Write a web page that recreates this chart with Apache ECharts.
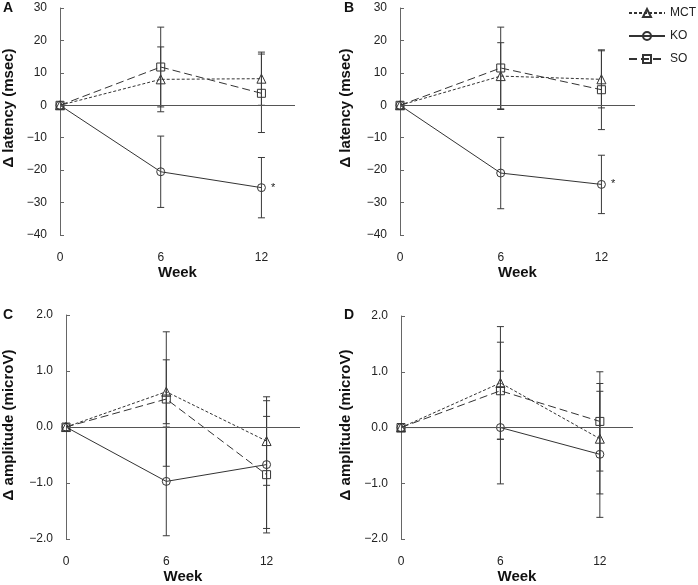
<!DOCTYPE html>
<html><head><meta charset="utf-8">
<script src="https://cdn.jsdelivr.net/npm/echarts@6/dist/echarts.min.js"></script>
<style>html,body{margin:0;padding:0;background:#fff}#c{width:698px;height:585px}</style>
</head><body><div id="c"></div>
<script>
// ---- data ----
const weeks = [0, 6, 12];
const weekTicks = [0, 6, 12];
const groupNames = ['MCT', 'KO', 'SO'];
const panelLetters = ['A', 'B', 'C', 'D'];
const latencyTitle = 'Δ latency (msec)';
const amplitudeTitle = 'Δ amplitude (microV)';
const latencyTicks = [-40, -30, -20, -10, 0, 10, 20, 30];
const amplitudeTicks = [-2.0, -1.0, 0.0, 1.0, 2.0];

// Panel A: latency
const aMCT = [0, 8.0, 8.2];
const aMCTerr = [0, 10.0, 8.2];
const aKO = [0, -20.5, -25.4];
const aKOerr = [0, 11.0, 9.3];
const aSO = [0, 11.8, 3.7];
const aSOerr = [0, 12.3, 12.1];
const aKOmark = ['', '', '*'];
// Panel B: latency
const bMCT = [0, 9.0, 8.0];
const bMCTerr = [0, 10.3, 8.8];
const bKO = [0, -20.9, -24.4];
const bKOerr = [0, 11.0, 9.0];
const bSO = [0, 11.5, 4.8];
const bSOerr = [0, 12.6, 12.3];
const bKOmark = ['', '', '*'];
// Panel C: amplitude
const cMCT = [0, 0.63, -0.25];
const cMCTerr = [0, 0.57, 0.79];
const cKO = [0, -0.97, -0.67];
const cKOerr = [0, 0.97, 1.14];
const cSO = [0, 0.50, -0.85];
const cSOerr = [0, 1.20, 1.04];
const cKOmark = ['', '', ''];
// Panel D: amplitude
const dMCT = [0, 0.80, -0.20];
const dMCTerr = [0, 1.01, 0.99];
const dKO = [0, 0.0, -0.48];
const dKOerr = [0, 1.01, 1.13];
const dSO = [0, 0.66, 0.11];
const dSOerr = [0, 0.87, 0.89];
const dKOmark = ['', '', ''];

// ---- layout / style ----
const FONT = '"Liberation Sans", Arial, Helvetica, sans-serif';
const panels = [
  {vals: [aMCT, aKO, aSO], errs: [aMCTerr, aKOerr, aSOerr], marks: aKOmark, ticks: latencyTicks, title: latencyTitle,
   grid: {left: 60, top: 8, width: 235, height: 227}, letterPos: [8, 8], titlePos: [9, 108], fmt: v => String(v)},
  {vals: [bMCT, bKO, bSO], errs: [bMCTerr, bKOerr, bSOerr], marks: bKOmark, ticks: latencyTicks, title: latencyTitle,
   grid: {left: 400, top: 8, width: 235, height: 227}, letterPos: [349, 8], titlePos: [346, 108], fmt: v => String(v)},
  {vals: [cMCT, cKO, cSO], errs: [cMCTerr, cKOerr, cSOerr], marks: cKOmark, ticks: amplitudeTicks, title: amplitudeTitle,
   grid: {left: 66, top: 315, width: 234, height: 229}, letterPos: [8, 315], titlePos: [9, 425], fmt: v => v.toFixed(1)},
  {vals: [dMCT, dKO, dSO], errs: [dMCTerr, dKOerr, dSOerr], marks: dKOmark, ticks: amplitudeTicks, title: amplitudeTitle,
   grid: {left: 401, top: 316, width: 232, height: 229}, letterPos: [349, 315], titlePos: [346, 425], fmt: v => v.toFixed(1)}
];
const styles = [
  {symbol: 'triangle', dash: [3, 2]},
  {symbol: 'circle', dash: 'solid'},
  {symbol: 'rect', dash: [8, 4]}
];
const INK = '#333';

function renderErr(params, api) {
  const x = api.value(0), lo = api.value(1), hi = api.value(2);
  if (lo === hi) return null;
  const p1 = api.coord([x, hi]), p2 = api.coord([x, lo]);
  const w = 3.5, st = {stroke: '#3a3a3a', lineWidth: 1};
  return {type: 'group', children: [
    {type: 'line', shape: {x1: p1[0], y1: p1[1], x2: p2[0], y2: p2[1]}, style: st},
    {type: 'line', shape: {x1: p1[0] - w, y1: p1[1], x2: p1[0] + w, y2: p1[1]}, style: st},
    {type: 'line', shape: {x1: p2[0] - w, y1: p2[1], x2: p2[0] + w, y2: p2[1]}, style: st}
  ]};
}

const grids = [], xAxes = [], yAxes = [], series = [], graphics = [];
panels.forEach((p, i) => {
  grids.push(p.grid);
  xAxes.push({
    type: 'value', gridIndex: i, min: 0, max: 14,
    axisLine: {show: false}, axisTick: {show: false}, splitLine: {show: false},
    axisLabel: {customValues: weekTicks, margin: 17, color: '#222', fontSize: 12, fontFamily: FONT},
    name: 'Week', nameLocation: 'middle', nameGap: 28,
    nameTextStyle: {fontWeight: 'bold', fontSize: 15, color: '#111', fontFamily: FONT}
  });
  const tk = p.ticks;
  yAxes.push({
    type: 'value', gridIndex: i, min: tk[0], max: tk[tk.length - 1], interval: tk[1] - tk[0],
    axisLine: {show: true, lineStyle: {color: '#666', width: 1}},
    axisTick: {show: true, inside: true, length: 4, lineStyle: {color: '#666'}},
    splitLine: {show: false},
    axisLabel: {margin: 13, color: '#222', fontSize: 12, fontFamily: FONT,
      formatter: v => p.fmt(v).replace('-', '\u2212')}
  });
  groupNames.forEach((name, g) => {
    const vals = p.vals[g];
    const data = weeks.map((w, k) => {
      const item = {value: [w, vals[k]]};
      if (g === 1 && p.marks[k]) {
        item.label = {show: true, formatter: p.marks[k], position: 'right', distance: 5,
          fontSize: 11, color: '#222', fontFamily: FONT};
      }
      return item;
    });
    const s = {
      type: 'line', name: name, xAxisIndex: i, yAxisIndex: i, data: data,
      symbol: styles[g].symbol, symbolSize: g === 0 ? 9 : 8, showSymbol: true,
      lineStyle: {color: INK, width: 1, type: styles[g].dash},
      itemStyle: {color: 'rgba(255,255,255,0)', borderColor: INK, borderWidth: 1},
      emphasis: {disabled: true}, animation: false, z: 3
    };
    if (g === 1) {
      s.markLine = {silent: true, symbol: 'none', label: {show: false},
        lineStyle: {color: '#555', width: 1, type: 'solid'}, data: [{yAxis: 0}], animation: false};
    }
    series.push(s);
    series.push({
      type: 'custom', name: name + ' error', xAxisIndex: i, yAxisIndex: i,
      renderItem: renderErr, encode: {x: 0, y: [1, 2]},
      data: weeks.map((w, k) => [w, vals[k] - p.errs[g][k], vals[k] + p.errs[g][k]]),
      animation: false, silent: true, z: 4
    });
  });
  graphics.push({type: 'text', left: p.letterPos[0] - 5, top: p.letterPos[1] - 7,
    style: {text: panelLetters[i], font: 'bold 14px ' + FONT, fill: '#111'}});
  graphics.push({type: 'text', x: p.titlePos[0], y: p.titlePos[1], rotation: Math.PI / 2,
    style: {text: p.title, font: 'bold 15px ' + FONT, fill: '#111', align: 'center', verticalAlign: 'middle'}});
});

const chart = echarts.init(document.getElementById('c'), null, {renderer: 'canvas'});
chart.setOption({
  backgroundColor: '#fff',
  animation: false,
  grid: grids, xAxis: xAxes, yAxis: yAxes, series: series, graphic: graphics,
  legend: {
    data: groupNames, orient: 'vertical', left: 623, top: 2,
    itemWidth: 36, itemHeight: 10, itemGap: 11,
    textStyle: {fontSize: 12, color: '#222', fontFamily: FONT},
    selectedMode: false
  }
});
</script></body></html>
